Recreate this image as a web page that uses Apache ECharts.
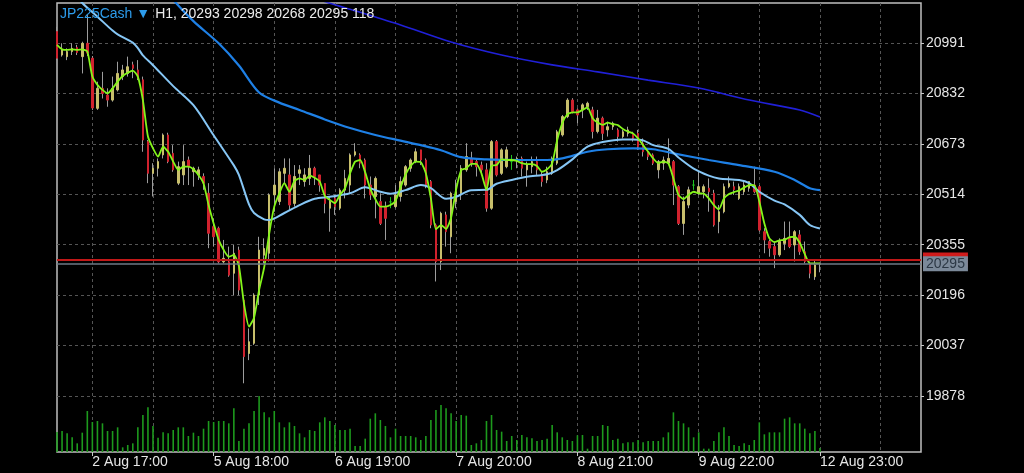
<!DOCTYPE html>
<html><head><meta charset="utf-8">
<script src="https://cdn.jsdelivr.net/npm/echarts@6/dist/echarts.min.js"></script>
<style>html,body{margin:0;padding:0;background:#000;}#c{width:1024px;height:473px;}</style>
</head><body><div id="c"></div>
<script>
const symbolName = 'JP225Cash ▼';
const headerInfo = 'H1, 20293 20298 20268 20295 118';
const timeLabels = ['2 Aug 17:00','5 Aug 18:00','6 Aug 19:00','7 Aug 20:00','8 Aug 21:00','9 Aug 22:00','12 Aug 23:00'];
const firstLabelIndex = 7, barsPerLabel = 24, barsPerGrid = 12, totalSlots = 172;
const priceMin = 19719, priceMax = 21117.1, priceStep = 159;
const bidPrice = 20295, askPrice = 20307;

const opens = [21027,20953,20948,20964,20977,20948,20990,20943,20785,20848,20827,20811,20843,20885,20895,20922,20906,20875,20680,20580,20596,20638,20701,20643,20549,20575,20622,20585,20575,20570,20517,20412,20407,20301,20301,20265,20338,20180,20012,20044,20196,20322,20328,20512,20491,20580,20575,20485,20580,20554,20564,20596,20575,20548,20470,20501,20470,20527,20543,20638,20638,20622,20543,20507,20491,20475,20490,20475,20507,20543,20596,20617,20654,20622,20554,20417,20302,20449,20380,20491,20517,20591,20627,20617,20606,20591,20470,20680,20580,20601,20617,20617,20627,20591,20601,20617,20575,20559,20580,20612,20701,20759,20811,20780,20780,20790,20780,20712,20754,20717,20727,20717,20696,20706,20706,20706,20675,20648,20638,20591,20612,20612,20617,20538,20422,20480,20543,20517,20522,20533,20517,20428,20459,20538,20538,20501,20522,20533,20543,20538,20396,20365,20349,20323,20359,20375,20354,20386,20333,20296,20254,20293];
const highs = [21042,20990,20974,20990,20985,20995,21079,20950,20869,20900,20848,20885,20932,20922,20948,20932,20937,20885,20685,20612,20627,20706,20708,20669,20617,20669,20633,20601,20601,20580,20549,20438,20412,20370,20349,20354,20349,20190,20091,20202,20380,20375,20517,20596,20596,20627,20627,20606,20606,20596,20638,20601,20575,20548,20507,20512,20533,20591,20643,20675,20643,20627,20570,20570,20517,20491,20505,20543,20570,20606,20627,20659,20654,20627,20559,20422,20459,20459,20522,20560,20606,20675,20648,20622,20617,20612,20685,20685,20659,20664,20638,20633,20633,20617,20633,20633,20585,20601,20633,20717,20764,20817,20817,20785,20801,20806,20790,20780,20759,20743,20743,20722,20717,20727,20711,20717,20690,20659,20643,20622,20633,20690,20622,20543,20507,20538,20559,20585,20545,20564,20528,20480,20548,20570,20554,20548,20554,20554,20601,20543,20407,20370,20365,20375,20428,20428,20401,20401,20365,20302,20307,20298];
const lows = [20937,20948,20937,20953,20953,20895,20950,20780,20780,20816,20790,20806,20838,20874,20885,20880,20874,20648,20549,20507,20570,20627,20612,20585,20543,20543,20543,20538,20559,20528,20344,20349,20296,20296,20254,20196,20196,19918,19991,20039,20165,20296,20302,20459,20480,20549,20464,20475,20543,20538,20543,20543,20522,20454,20396,20449,20464,20501,20517,20633,20596,20501,20496,20438,20417,20370,20470,20470,20491,20538,20585,20612,20606,20533,20407,20239,20275,20349,20328,20470,20496,20585,20601,20570,20580,20459,20465,20570,20575,20596,20591,20596,20570,20538,20580,20575,20538,20549,20575,20606,20696,20754,20769,20738,20754,20780,20690,20706,20685,20696,20717,20680,20690,20696,20680,20654,20633,20622,20606,20564,20591,20606,20480,20417,20386,20470,20528,20512,20501,20459,20412,20391,20454,20533,20512,20496,20512,20522,20517,20396,20328,20317,20281,20317,20338,20344,20302,20323,20296,20249,20244,20268];
const closes = [20943,20971,20964,20974,20961,20990,20959,20786,20848,20832,20811,20848,20895,20906,20916,20911,20880,20685,20580,20596,20617,20701,20617,20591,20601,20617,20601,20596,20591,20549,20391,20380,20301,20312,20259,20328,20212,20002,20049,20196,20338,20343,20512,20543,20585,20596,20480,20570,20591,20575,20596,20570,20543,20485,20491,20475,20527,20564,20638,20648,20612,20543,20512,20564,20422,20438,20490,20512,20554,20601,20622,20648,20622,20543,20417,20302,20454,20396,20517,20522,20596,20633,20612,20601,20591,20470,20680,20575,20654,20654,20617,20627,20596,20606,20617,20591,20554,20585,20627,20711,20759,20811,20775,20764,20796,20801,20712,20754,20706,20727,20738,20696,20711,20717,20690,20664,20648,20633,20612,20617,20622,20627,20543,20422,20491,20528,20543,20538,20538,20522,20417,20459,20538,20548,20528,20538,20543,20554,20522,20401,20370,20344,20323,20365,20375,20349,20396,20333,20302,20265,20291,20295];
const volumes = [600,630,560,440,260,580,1230,900,930,860,630,630,740,140,210,260,740,1110,1340,780,430,590,560,660,740,740,480,580,480,700,930,900,930,930,860,1310,330,700,860,1230,1680,1190,1040,1230,890,740,890,780,560,440,660,630,890,1040,930,810,660,660,700,180,180,400,1000,1160,960,780,440,700,480,480,480,440,360,480,960,1260,1410,1310,1160,930,1110,1090,210,260,360,930,1110,660,610,330,480,360,510,440,410,330,360,400,810,590,440,360,330,500,510,100,480,480,810,780,360,400,260,290,290,360,290,330,330,330,440,590,1190,930,860,740,440,590,100,100,330,590,740,480,210,180,260,210,360,890,530,590,590,590,1000,1040,860,860,700,560,630,118];

const maFast = [20985,20971,20969,20971,20969,20971,20964,20885,20859,20843,20832,20848,20869,20887,20897,20904,20885,20811,20696,20659,20633,20664,20648,20617,20591,20601,20601,20593,20575,20549,20480,20422,20370,20338,20317,20323,20288,20170,20097,20125,20212,20283,20390,20475,20517,20549,20522,20556,20564,20559,20573,20566,20554,20509,20496,20486,20512,20533,20580,20617,20622,20583,20531,20499,20475,20475,20480,20493,20536,20577,20603,20617,20615,20580,20501,20404,20417,20405,20440,20530,20590,20596,20610,20610,20580,20528,20604,20606,20624,20622,20622,20619,20612,20609,20609,20603,20585,20593,20611,20685,20738,20766,20772,20772,20780,20788,20754,20740,20733,20740,20735,20732,20720,20712,20706,20690,20669,20648,20627,20612,20617,20612,20564,20512,20499,20512,20522,20517,20516,20501,20480,20467,20501,20515,20521,20526,20535,20543,20543,20491,20422,20375,20363,20369,20370,20379,20380,20361,20325,20296,20296,20296];
const maLight = [[4,21140],[5,21117],[8,21074],[11,21030],[12,21018],[15,20992],[16,20975],[17,20952],[19,20921],[23,20855],[27,20795],[31,20700],[35,20605],[36,20575],[38,20482],[39,20455],[41,20435],[42,20433],[45,20455],[48,20480],[51,20500],[54,20506],[58,20517],[61,20536],[64,20522],[66,20516],[69,20527],[72,20543],[74,20533],[77,20500],[79,20506],[82,20527],[85,20528],[87,20547],[90,20559],[93,20569],[97,20577],[99,20590],[102,20624],[105,20664],[108,20679],[112,20687],[114,20687],[116,20684],[118,20669],[121,20657],[123,20630],[126,20595],[129,20573],[131,20564],[135,20559],[137,20549],[139,20522],[142,20494],[144,20482],[147,20449],[149,20417],[151,20406]];
const maBlue = [[22,21150],[23,21127],[27,21060],[32,20990],[36,20920],[40,20835],[44,20803],[48,20780],[53,20750],[58,20723],[63,20701],[68,20683],[72,20669],[76,20653],[80,20631],[85,20624],[92,20622],[97,20622],[100,20627],[105,20648],[109,20656],[114,20659],[118,20656],[122,20643],[129,20622],[135,20606],[142,20585],[146,20559],[149,20533],[151,20527]];
const maDark = [[51,21140],[52,21127],[60,21088],[68,21048],[78,20994],[88,20953],[98,20922],[107,20900],[117,20874],[127,20849],[137,20811],[147,20780],[151,20758]];

const categories = Array.from({length: totalSlots}, (_, i) => String(i));
const isLabel = i => i >= firstLabelIndex && (i - firstLabelIndex) % barsPerLabel === 0;
const isGrid = i => i >= firstLabelIndex && (i - firstLabelIndex) % barsPerGrid === 0;

const wickData = opens.map((o, i) => [o, closes[i], lows[i], highs[i]]);
const bodyData = opens.map((o, i) => [o, closes[i], Math.min(o, closes[i]), Math.max(o, closes[i])]);

const chart = echarts.init(document.getElementById('c'), null, {renderer: 'canvas'});
const labelFont = {color: '#e6e6e6', fontSize: 14, fontFamily: 'Liberation Sans, Arial, sans-serif'};
chart.setOption({
  backgroundColor: '#000',
  animation: false,
  textStyle: {fontFamily: 'Liberation Sans, Arial, sans-serif'},
  title: {
    left: 60, top: 5, padding: 0, z: 20,
    text: '{a|' + symbolName + '} {b|' + headerInfo + '}',
    textStyle: {fontWeight: 'normal', rich: {a: {color: '#2d9ceb', fontSize: 14, fontWeight: 'normal'}, b: {color: '#ececec', fontSize: 14, fontWeight: 'normal'}}}
  },
  grid: [
    {left: 57, right: 103, top: 3, bottom: 26.6},
    {left: 57, right: 103, top: 3, bottom: 21, show: true, borderColor: '#bfbfbf', borderWidth: 1.5, backgroundColor: 'transparent'}
  ],
  xAxis: [
    {type: 'category', gridIndex: 0, data: categories, boundaryGap: false,
     axisLine: {show: false}, axisTick: {show: false}, axisLabel: {show: false}, splitLine: {show: false}},
    {type: 'category', gridIndex: 1, data: categories, boundaryGap: false,
     axisLine: {show: false},
     axisTick: {show: true, interval: isLabel, length: 4, lineStyle: {color: '#c8c8c8'}},
     axisLabel: Object.assign({interval: isLabel, align: 'left', margin: 3,
       formatter: (v, idx) => timeLabels[(idx - firstLabelIndex) / barsPerLabel] || ''}, labelFont),
     splitLine: {show: true, interval: isGrid, lineStyle: {color: '#555', type: [3, 3], width: 1}}}
  ],
  yAxis: [
    {type: 'value', gridIndex: 0, position: 'right', min: priceMin, max: priceMax, interval: priceStep,
     axisLine: {show: false},
     axisTick: {show: true, length: 3, lineStyle: {color: '#c8c8c8'}},
     axisLabel: Object.assign({margin: 5, showMinLabel: false, showMaxLabel: false,
       formatter: v => String(Math.round(v))}, labelFont),
     splitLine: {show: true, showMinLine: false, showMaxLine: false, lineStyle: {color: '#555', type: [3, 3], width: 1}}},
    {type: 'value', gridIndex: 1, min: 0, max: 13470, show: false, splitLine: {show: false}}
  ],
  series: [
    {type: 'bar', name: 'vol', xAxisIndex: 1, yAxisIndex: 1, data: volumes, barWidth: 1.6,
     itemStyle: {color: '#1d9a1d'}, silent: true},
    {type: 'candlestick', name: 'wick', xAxisIndex: 0, yAxisIndex: 0, data: wickData, barWidth: 1,
     itemStyle: {color: '#9d9d9d', color0: '#9d9d9d', borderColor: '#9d9d9d', borderColor0: '#9d9d9d', borderColorDoji: '#22c322', borderWidth: 1},
     silent: true},
    {type: 'candlestick', name: 'body', xAxisIndex: 0, yAxisIndex: 0, data: bodyData, barWidth: 2,
     itemStyle: {color: '#c8bf6c', color0: '#d0222e', borderColor: '#c8bf6c', borderColor0: '#d0222e', borderColorDoji: '#22c322', borderWidth: 1},
     silent: true,
     markLine: {
       silent: true, symbol: ['none', 'none'], animation: false,
       data: [
         {yAxis: askPrice, lineStyle: {color: '#c01818', width: 2, type: 'solid'},
          label: {show: true, position: 'end', distance: 2, formatter: String(askPrice), color: '#d01c1c', backgroundColor: '#d01c1c', fontSize: 14, padding: [1, 3, 0, 3], lineHeight: 14}},
         {yAxis: bidPrice, lineStyle: {color: '#6c7886', width: 1.5, type: 'solid'},
          label: {show: true, position: 'end', distance: 2, formatter: String(bidPrice), color: '#2c3845', backgroundColor: '#7b8999', fontSize: 14, padding: [1, 3, 0, 3], lineHeight: 14}}
       ]
     }},
    {type: 'line', name: 'maDark', xAxisIndex: 0, yAxisIndex: 0, data: maDark, showSymbol: false, smooth: 0.3,
     lineStyle: {color: '#2020d8', width: 1.6}, silent: true},
    {type: 'line', name: 'maBlue', xAxisIndex: 0, yAxisIndex: 0, data: maBlue, showSymbol: false, smooth: 0.3,
     lineStyle: {color: '#1e80e6', width: 2.2}, silent: true},
    {type: 'line', name: 'maLight', xAxisIndex: 0, yAxisIndex: 0, data: maLight, showSymbol: false, smooth: 0.3,
     lineStyle: {color: '#86c6f5', width: 2}, silent: true},
    {type: 'line', name: 'maFast', xAxisIndex: 0, yAxisIndex: 0, data: maFast, showSymbol: false, smooth: 0.2,
     lineStyle: {color: '#84f51a', width: 1.8}, silent: true}
  ]
});
</script></body></html>
